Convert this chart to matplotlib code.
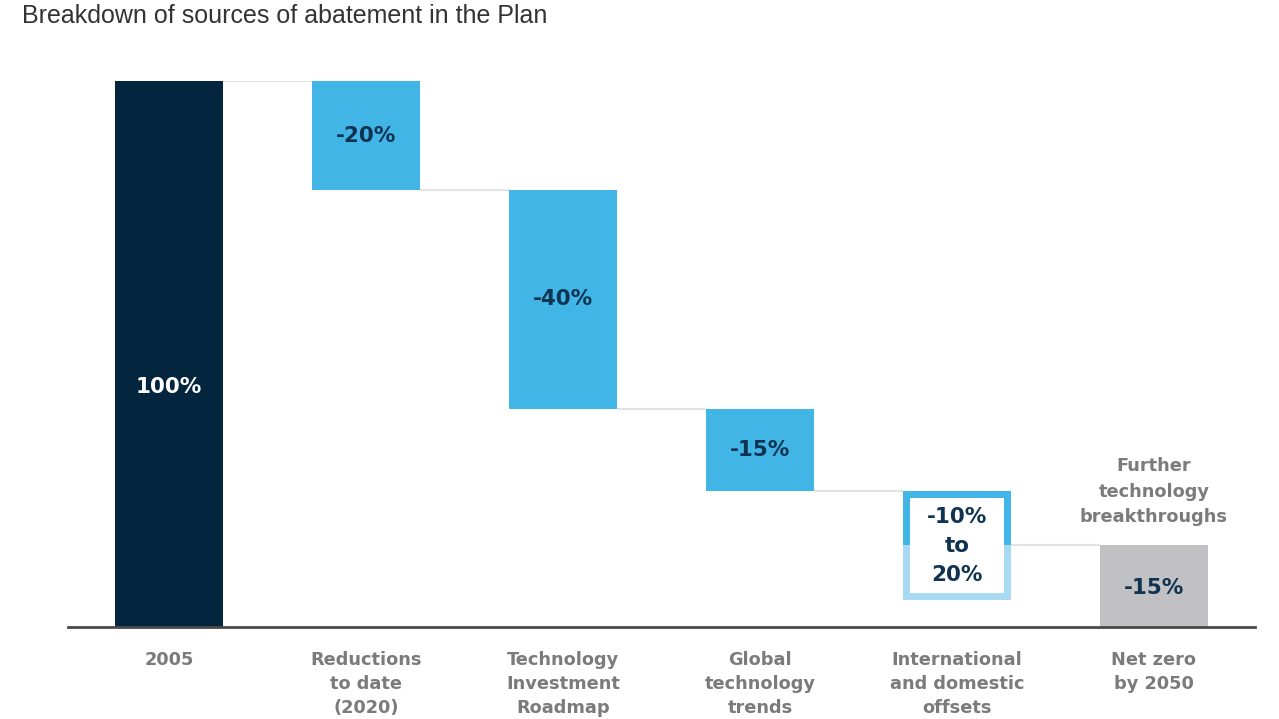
import matplotlib.pyplot as plt
import numpy as np

# waterfall data (percent of 2005 emissions)
categories = ["2005", "Reductions\nto date\n(2020)", "Technology\nInvestment\nRoadmap",
              "Global\ntechnology\ntrends", "International\nand domestic\noffsets", "Net zero\nby 2050"]
changes = [100, -20, -40, -15, -10, -15]
offset_extra = -10  # the "to 20%" part of the offsets range
bar_labels = ["100%", "-20%", "-40%", "-15%", "-10%\nto\n20%", "-15%"]
note = "Further\ntechnology\nbreakthroughs"

navy = "#03253e"
blue = "#41b6e6"
light_blue = "#a9daf3"
grey_bar = "#c1c1c3"
label_navy = "#0f3351"
label_grey = "#7b7b7b"
conn = "#e3e3e3"

fig = plt.figure(figsize=(12.79, 7.19), dpi=100)
ax = fig.add_axes([68 / 1279, 1 - 627 / 719, (1255 - 68) / 1279, (627 - 81) / 719])

x = np.arange(len(categories))
w = 0.545

# running level after each step
levels = [changes[0]]
for c in changes[1:-1]:
    levels.append(levels[-1] + c)
# levels: 100, 80, 40, 25, 15

# first bar
ax.bar(x[0], changes[0], width=w, color=navy, zorder=2)
# middle falling bars
for i in range(1, 4):
    top = levels[i - 1]
    ax.bar(x[i], changes[i], bottom=top, width=w, color=blue, zorder=2)

# offsets bar: outlined range box
top = levels[3]
low = top + changes[4] + offset_extra
mid = top + changes[4]
ax.bar(x[4], mid - low, bottom=low, width=w, color=light_blue, zorder=2)
ax.bar(x[4], top - mid, bottom=mid, width=w, color=blue, zorder=2)
bx = 7 / 197
by = 7 / 5.46
ax.bar(x[4], (top - low) - 2 * by, bottom=low + by, width=w - 2 * bx, color="white", zorder=3)

# net zero bar (remaining gap)
ax.bar(x[5], -changes[5], bottom=0, width=w, color=grey_bar, zorder=2)

# connectors
for i in range(5):
    ax.plot([x[i] + w / 2, x[i + 1] - w / 2], [levels[i], levels[i]],
            color=conn, lw=1.5, zorder=1, solid_capstyle="butt")

# bar labels
lab_font = dict(family="DejaVu Sans", fontweight="bold", fontsize=15.5)
ax.text(x[0], 44, bar_labels[0], ha="center", va="center", color="white", **lab_font)
for i in range(1, 4):
    ax.text(x[i], levels[i - 1] + changes[i] / 2, bar_labels[i], ha="center", va="center",
            color=label_navy, **lab_font)
ax.text(x[4], 14.8, bar_labels[4], ha="center", va="center",
        color=label_navy, linespacing=1.58, **lab_font)
ax.text(x[5], 7.1, bar_labels[5], ha="center", va="center", color=label_navy, **lab_font)

ax.text(x[5], 24.8, note, ha="center", va="center", color=label_grey, family="DejaVu Sans",
        fontweight="bold", fontsize=12.8, linespacing=1.55)

ax.set_xlim(-0.513, 5.513)
ax.set_ylim(0, 100)
for s in ["top", "right", "left"]:
    ax.spines[s].set_visible(False)
ax.spines["bottom"].set_color("#4a4a4a")
ax.spines["bottom"].set_linewidth(2)
ax.set_yticks([])
ax.set_xticks(x)
ax.set_xticklabels(categories, family="DejaVu Sans", fontweight="bold", fontsize=12.8,
                   color=label_grey, linespacing=1.46, va="top")
ax.tick_params(axis="x", length=0, pad=17)

fig.text(22 / 1279, 1 - 16 / 719, "Breakdown of sources of abatement in the Plan",
         family="Liberation Sans", fontsize=18, color="#333333", ha="left", va="center")

fig.savefig("out.png", dpi=100)
